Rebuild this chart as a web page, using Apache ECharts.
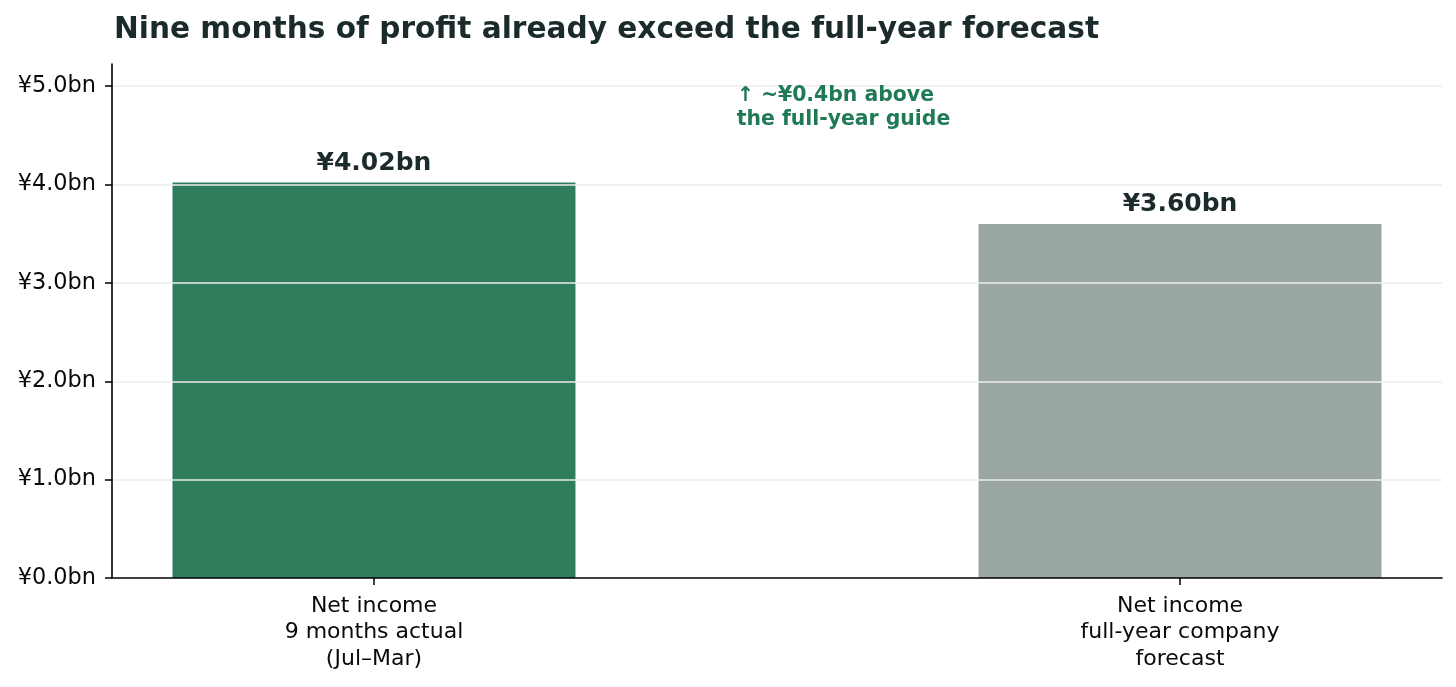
<!DOCTYPE html>
<html>
<head>
<meta charset="utf-8">
<script src="https://cdn.jsdelivr.net/npm/echarts@6/dist/echarts.min.js"></script>
<style>html,body{margin:0;padding:0;background:#fff}#c{width:1456px;height:687px}</style>
</head>
<body>
<div id="c"></div>
<script>
const titleText = 'Nine months of profit already exceed the full-year forecast';
const categories = ['Net income\n9 months actual\n(Jul\u2013Mar)', 'Net income\nfull-year company\nforecast'];
const positions = [0, 1];
const values = [4.02, 3.60];
const valueLabels = ['\u00a54.02bn', '\u00a53.60bn'];
const barColors = ['#2e7e5b', '#9aa6a3'];
const yTicks = [0, 1, 2, 3, 4, 5];
const annotationText = '\u2191 ~\u00a50.4bn above\nthe full-year guide';
const annotationPos = [0.45, 4.78];

const FONT = 'DejaVu Sans';
const chart = echarts.init(document.getElementById('c'), null, {renderer: 'canvas'});
chart.setOption({
  backgroundColor: '#ffffff',
  animation: false,
  title: {
    text: titleText,
    left: 109, top: 10,
    textStyle: {fontFamily: FONT, fontSize: 29.6, fontWeight: 'bold', color: '#1b2a2a'}
  },
  grid: {left: 112, right: 14, top: 64, bottom: 109, containLabel: false},
  xAxis: {
    type: 'value', min: -0.325, max: 1.325, z: 5,
    axisLine: {show: true, onZero: false, lineStyle: {color: '#000', width: 1.6}},
    axisTick: {show: true, length: 7, customValues: positions, lineStyle: {color: '#000', width: 1.5}},
    axisLabel: {
      customValues: positions, margin: 15,
      fontFamily: FONT, fontSize: 22, color: '#0a0a0a', lineHeight: 26.5,
      formatter: v => categories[Math.round(v)]
    },
    splitLine: {show: false}
  },
  yAxis: {
    type: 'value', min: 0, max: 5.226, interval: 1, z: 5,
    axisLine: {show: true, onZero: false, lineStyle: {color: '#000', width: 1.6}},
    axisTick: {show: true, length: 7, customValues: yTicks, lineStyle: {color: '#000', width: 1.5}},
    axisLabel: {
      customValues: yTicks, margin: 16,
      fontFamily: FONT, fontSize: 22.4, color: '#0a0a0a',
      formatter: v => '\u00a5' + v.toFixed(1) + 'bn'
    },
    splitLine: {show: true, showMinLine: false, lineStyle: {color: '#ededed', width: 1.6}}
  },
  series: [
    {
      type: 'bar',
      barWidth: 403,
      data: positions.map((p, i) => ({value: [p, values[i]], itemStyle: {color: barColors[i]}})),
      label: {
        show: true, position: 'top', distance: 7,
        fontFamily: FONT, fontSize: 25, fontWeight: 'bold', color: '#1b2a2a',
        formatter: p => valueLabels[p.dataIndex]
      }
    },
    {
      type: 'scatter',
      symbolSize: 0,
      z: 6,
      itemStyle: {opacity: 1},
      data: [annotationPos],
      label: {
        show: true, position: [0, 0], align: 'left', verticalAlign: 'middle',
        fontFamily: FONT, fontSize: 20.4, fontWeight: 'bold', color: '#1f7a55', lineHeight: 23.5,
        formatter: () => annotationText
      }
    }
  ]
});
</script>
</body>
</html>
